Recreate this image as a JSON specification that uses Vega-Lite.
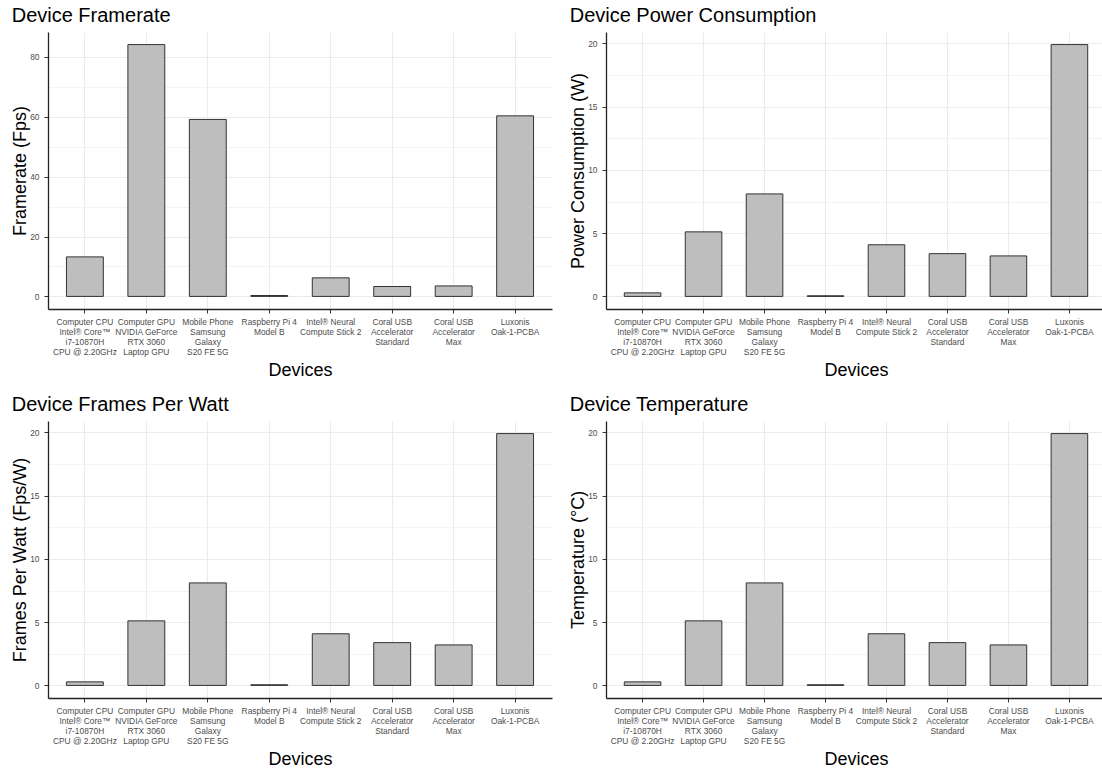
{
  "$schema": "https://vega.github.io/schema/vega-lite/v6.json",
  "padding": {"left": 11, "top": 6, "right": 0, "bottom": 0},
  "background": "white",
  "data": {
    "values": [
      {"device": "Computer CPU\nIntel® Core™\ni7-10870H\nCPU @ 2.20GHz", "framerate": 13.2, "power": 0.28, "fpw": 0.28, "temp": 0.28},
      {"device": "Computer GPU\nNVIDIA GeForce\nRTX 3060\nLaptop GPU", "framerate": 84.1, "power": 5.1, "fpw": 5.1, "temp": 5.1},
      {"device": "Mobile Phone\nSamsung\nGalaxy\nS20 FE 5G", "framerate": 59.1, "power": 8.1, "fpw": 8.1, "temp": 8.1},
      {"device": "Raspberry Pi 4\nModel B", "framerate": 0.3, "power": 0.05, "fpw": 0.05, "temp": 0.05},
      {"device": "Intel® Neural\nCompute Stick 2", "framerate": 6.2, "power": 4.08, "fpw": 4.08, "temp": 4.08},
      {"device": "Coral USB\nAccelerator\nStandard", "framerate": 3.3, "power": 3.38, "fpw": 3.38, "temp": 3.38},
      {"device": "Coral USB\nAccelerator\nMax", "framerate": 3.5, "power": 3.2, "fpw": 3.2, "temp": 3.2},
      {"device": "Luxonis\nOak-1-PCBA", "framerate": 60.3, "power": 19.9, "fpw": 19.9, "temp": 19.9}
    ]
  },
  "columns": 2,
  "align": "each",
  "spacing": {"row": 15, "column": 17},
  "concat": [
    {
      "title": "Device Framerate",
      "width": 504, "height": 277,
      "mark": {"type": "bar", "fill": "#bebebe", "stroke": "#333333", "strokeWidth": 1},
      "encoding": {
        "x": {"field": "device", "type": "nominal", "sort": null, "title": "Devices",
              "scale": {"paddingInner": 0.4, "paddingOuter": 0.3},
              "axis": {"labelExpr": "split(datum.label, '\\n')", "labelAngle": 0, "grid": true, "gridWidth": 1.1, "labelOverlap": false, "labelLimit": 0, "labelPadding": 4, "labelLineHeight": 10, "titlePadding": 6}},
        "y": {"field": "framerate", "type": "quantitative", "title": "Framerate (Fps)",
              "scale": {"domain": [-4.205, 88.305], "nice": false, "zero": false},
              "axis": {"values": [0, 10, 20, 30, 40, 50, 60, 70, 80],
                       "labelExpr": "datum.value % 20 === 0 ? datum.label : ''",
                       "tickOpacity": {"condition": {"test": "datum.value % 20 === 0", "value": 1}, "value": 0},
                       "gridWidth": {"condition": {"test": "datum.value % 20 === 0", "value": 1.1}, "value": 0.6},
                       "labelPadding": 5, "titlePadding": 0}},
        "y2": {"datum": 0}
      }
    },
    {
      "title": "Device Power Consumption",
      "width": 500, "height": 277,
      "mark": {"type": "bar", "fill": "#bebebe", "stroke": "#333333", "strokeWidth": 1},
      "encoding": {
        "x": {"field": "device", "type": "nominal", "sort": null, "title": "Devices",
              "scale": {"paddingInner": 0.4, "paddingOuter": 0.3},
              "axis": {"labelExpr": "split(datum.label, '\\n')", "labelAngle": 0, "grid": true, "gridWidth": 1.1, "labelOverlap": false, "labelLimit": 0, "labelPadding": 4, "labelLineHeight": 10, "titlePadding": 6}},
        "y": {"field": "power", "type": "quantitative", "title": "Power Consumption (W)",
              "scale": {"domain": [-0.995, 20.895], "nice": false, "zero": false},
              "axis": {"values": [0, 2.5, 5, 7.5, 10, 12.5, 15, 17.5, 20],
                       "labelExpr": "datum.value % 5 === 0 ? datum.label : ''",
                       "tickOpacity": {"condition": {"test": "datum.value % 5 === 0", "value": 1}, "value": 0},
                       "gridWidth": {"condition": {"test": "datum.value % 5 === 0", "value": 1.1}, "value": 0.6},
                       "labelPadding": 5, "titlePadding": 0}},
        "y2": {"datum": 0}
      }
    },
    {
      "title": "Device Frames Per Watt",
      "width": 504, "height": 277,
      "mark": {"type": "bar", "fill": "#bebebe", "stroke": "#333333", "strokeWidth": 1},
      "encoding": {
        "x": {"field": "device", "type": "nominal", "sort": null, "title": "Devices",
              "scale": {"paddingInner": 0.4, "paddingOuter": 0.3},
              "axis": {"labelExpr": "split(datum.label, '\\n')", "labelAngle": 0, "grid": true, "gridWidth": 1.1, "labelOverlap": false, "labelLimit": 0, "labelPadding": 4, "labelLineHeight": 10, "titlePadding": 6}},
        "y": {"field": "fpw", "type": "quantitative", "title": "Frames Per Watt (Fps/W)",
              "scale": {"domain": [-0.995, 20.895], "nice": false, "zero": false},
              "axis": {"values": [0, 2.5, 5, 7.5, 10, 12.5, 15, 17.5, 20],
                       "labelExpr": "datum.value % 5 === 0 ? datum.label : ''",
                       "tickOpacity": {"condition": {"test": "datum.value % 5 === 0", "value": 1}, "value": 0},
                       "gridWidth": {"condition": {"test": "datum.value % 5 === 0", "value": 1.1}, "value": 0.6},
                       "labelPadding": 5, "titlePadding": 0}},
        "y2": {"datum": 0}
      }
    },
    {
      "title": "Device Temperature",
      "width": 500, "height": 277,
      "mark": {"type": "bar", "fill": "#bebebe", "stroke": "#333333", "strokeWidth": 1},
      "encoding": {
        "x": {"field": "device", "type": "nominal", "sort": null, "title": "Devices",
              "scale": {"paddingInner": 0.4, "paddingOuter": 0.3},
              "axis": {"labelExpr": "split(datum.label, '\\n')", "labelAngle": 0, "grid": true, "gridWidth": 1.1, "labelOverlap": false, "labelLimit": 0, "labelPadding": 4, "labelLineHeight": 10, "titlePadding": 6}},
        "y": {"field": "temp", "type": "quantitative", "title": "Temperature (°C)",
              "scale": {"domain": [-0.995, 20.895], "nice": false, "zero": false},
              "axis": {"values": [0, 2.5, 5, 7.5, 10, 12.5, 15, 17.5, 20],
                       "labelExpr": "datum.value % 5 === 0 ? datum.label : ''",
                       "tickOpacity": {"condition": {"test": "datum.value % 5 === 0", "value": 1}, "value": 0},
                       "gridWidth": {"condition": {"test": "datum.value % 5 === 0", "value": 1.1}, "value": 0.6},
                       "labelPadding": 5, "titlePadding": 0}},
        "y2": {"datum": 0}
      }
    }
  ],
  "config": {
    "font": "Liberation Sans",
    "view": {"stroke": null},
    "title": {"anchor": "start", "frame": "bounds", "fontSize": 20, "fontWeight": "normal", "color": "#000000", "font": "Liberation Sans", "offset": 6},
    "axis": {
      "domainColor": "#222222", "domainWidth": 1.3,
      "tickColor": "#333333", "tickSize": 4, "tickWidth": 1,
      "labelColor": "#4d4d4d", "labelFontSize": 8.4, "labelFont": "Liberation Sans",
      "titleFont": "Liberation Sans", "titleFontSize": 18, "titleFontWeight": "normal", "titleColor": "#000000",
      "gridColor": "#ebebeb"
    }
  }
}
